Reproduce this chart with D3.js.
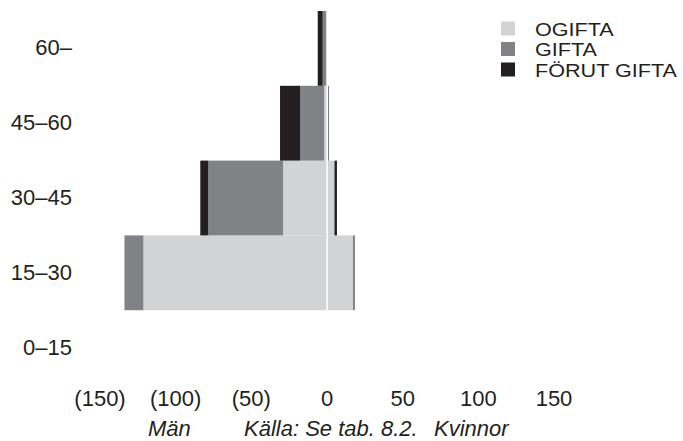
<!DOCTYPE html>
<html>
<head>
<meta charset="utf-8">
<script src="https://cdn.jsdelivr.net/npm/d3@7"></script>
<style>
  html, body { margin: 0; padding: 0; background: #fff; }
  svg { display: block; }
  text { font-family: "Liberation Sans", Arial, sans-serif; fill: #231f20; }
</style>
</head>
<body>
<svg id="chart" width="683" height="441"></svg>
<script>
// ---- data ----
const ageGroups = ["60–", "45–60", "30–45", "15–30", "0–15"];
const seriesKeys = ["ogifta", "gifta", "forut"];
const seriesLabels = ["OGIFTA", "GIFTA", "FÖRUT GIFTA"];
const seriesColors = ["#d1d3d4", "#808285", "#231f20"];
// values per age group, in ageGroups order
const menOgifta   = [0,   1.5, 28.7, 121,  0];
const menGifta    = [2.5, 16,  49.4, 12.5, 0];
const menForut    = [3.3, 13.2, 5.3, 0,    0];
const womenOgifta = [0,   1,   4.9,  17.5, 0];
const womenGifta  = [0,   0.7, 0.7,  1.3,  0];
const womenForut  = [0,   0,   1.3,  0,    0];
const xTicks = [-150, -100, -50, 0, 50, 100, 150];
const footLabels = ["Män", "Källa: Se tab. 8.2.", "Kvinnor"];

// ---- build tables ----
const men = ageGroups.map((g, i) => ({ age: g, ogifta: menOgifta[i], gifta: menGifta[i], forut: menForut[i] }));
const women = ageGroups.map((g, i) => ({ age: g, ogifta: womenOgifta[i], gifta: womenGifta[i], forut: womenForut[i] }));

const svg = d3.select("#chart");
const x = d3.scaleLinear().domain([-150, 150]).range([99.5, 553.5]);
const y = d3.scaleBand().domain(ageGroups).range([11, 385]).padding(0);
const color = d3.scaleOrdinal().domain(seriesKeys).range(seriesColors);

const stack = d3.stack().keys(seriesKeys);
const menStack = stack(men);
const womenStack = stack(women);

// men bars (to the left)
svg.append("g").selectAll("g").data(menStack).join("g")
  .attr("fill", d => color(d.key))
  .selectAll("rect").data(d => d).join("rect")
  .attr("x", d => x(-d[1]))
  .attr("width", d => x(-d[0]) - x(-d[1]))
  .attr("y", d => y(d.data.age))
  .attr("height", y.bandwidth());

// women bars (to the right)
svg.append("g").selectAll("g").data(womenStack).join("g")
  .attr("fill", d => color(d.key))
  .selectAll("rect").data(d => d).join("rect")
  .attr("x", d => x(d[0]))
  .attr("width", d => x(d[1]) - x(d[0]))
  .attr("y", d => y(d.data.age))
  .attr("height", y.bandwidth());

// white separator at zero
svg.append("line")
  .attr("x1", x(0) + 0.7).attr("x2", x(0) + 0.7)
  .attr("y1", y.range()[0]).attr("y2", y.range()[1])
  .attr("stroke", "#fff").attr("stroke-width", 1.4);

// y axis (age groups)
const yAxis = svg.append("g").attr("transform", "translate(72,0)")
  .call(d3.axisLeft(y).tickSize(0).tickPadding(0));
yAxis.select(".domain").remove();
yAxis.selectAll("text").style("font-size", "22px").style("font-family", "Liberation Sans, Arial, sans-serif").attr("fill", "#231f20");

// x axis
const xAxis = svg.append("g").attr("transform", "translate(0,390)")
  .call(d3.axisBottom(x).tickValues(xTicks).tickSize(0).tickPadding(0)
    .tickFormat(d => d < 0 ? "(" + Math.abs(d) + ")" : String(d)));
xAxis.select(".domain").remove();
xAxis.selectAll("text").style("font-size", "22px").style("font-family", "Liberation Sans, Arial, sans-serif").attr("fill", "#231f20");

// footer labels
const footX = [148, 244, 434];
svg.append("g").selectAll("text").data(footLabels).join("text")
  .attr("x", (d, i) => footX[i]).attr("y", 436)
  .style("font-size", "22px").style("font-style", "italic")
  .text(d => d);

// legend
const legend = svg.append("g").attr("transform", "translate(501,0)");
const lg = legend.selectAll("g").data(seriesKeys).join("g")
  .attr("transform", (d, i) => `translate(0,${35.5 + i * 20.5})`);
lg.append("rect").attr("x", 0).attr("y", -14).attr("width", 14).attr("height", 14)
  .attr("fill", d => color(d));
lg.append("text")
  .attr("transform", "translate(34,0) scale(1.18,1)")
  .style("font-size", "18.3px")
  .text((d, i) => seriesLabels[i]);
</script>
</body>
</html>
